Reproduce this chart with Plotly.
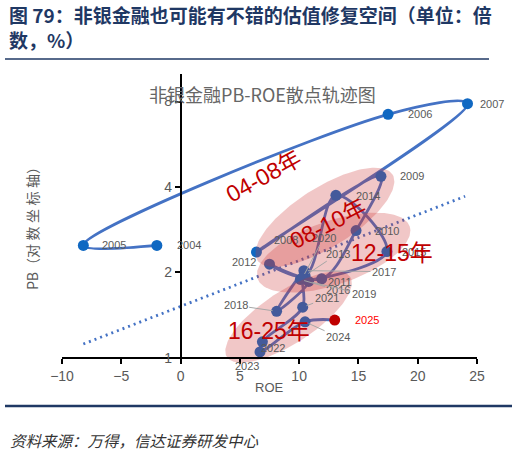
import math
import numpy as np
import plotly.graph_objects as go

# ---------------- data ----------------
years = list(range(2004, 2026))
roe = [-2.0, -8.2, 17.5, 24.2, 6.4, 16.9, 14.8, 11.9, 7.5, 10.5, 13.1,
       17.4, 10.1, 10.4, 8.1, 10.8, 10.3, 10.3, 6.9, 6.7, 10.5, 13.0]
pb = [2.49, 2.49, 7.21, 7.86, 2.36, 4.36, 2.81, 1.90, 2.14, 1.95, 3.74,
      2.37, 1.89, 2.03, 1.46, 1.86, 1.92, 1.51, 1.14, 1.05, 1.34, 1.36]
trend_roe = [-8.2, 24.0]
trend_pb = [1.12, 3.71]
x_ticks = [-10, -5, 0, 5, 10, 15, 20, 25]
y_ticks = [1, 2, 4, 8]
group_labels = ["04-08年", "08-10年", "12-15年", "16-25年"]

# ---------------- layout constants ----------------
W, H = 518, 451
ML, MR, MT, MB = 62, 41, 74, 88
X_RANGE = [-10, 25]
Y_RANGE = [math.log10(0.96), 1.0]
PW, PH = W - ML - MR, H - MT - MB
PX_PER_X = PW / (X_RANGE[1] - X_RANGE[0])
PX_PER_DEC = PH / (Y_RANGE[1] - Y_RANGE[0])

LINE_BLUE = "#4472C4"
MARK_BLUE = "#1068C2"
RED = "#C00000"
GREY = "#595959"
NAVY = "#1F3864"


def paper(xp, yp):
    return (xp - ML) / PW, (H - MB - yp) / PH


def ellipse(cx, cpb, a, b, theta_deg, n=160):
    t = np.linspace(0, 2 * np.pi, n)
    th = math.radians(theta_deg)
    dx = a * np.cos(t) * math.cos(th) - b * np.sin(t) * math.sin(th)
    dy = a * np.cos(t) * math.sin(th) + b * np.sin(t) * math.cos(th)
    return cx + dx / PX_PER_X, cpb * 10 ** (dy / PX_PER_DEC)


fig = go.Figure()

# trend line
fig.add_trace(go.Scatter(x=trend_roe, y=trend_pb, mode="lines",
                         line=dict(color=LINE_BLUE, width=2.8, dash="2px,4px"),
                         hoverinfo="skip", showlegend=False))

# trajectory
mcolors = [MARK_BLUE] * (len(years) - 1) + [RED]
fig.add_trace(go.Scatter(x=roe, y=pb, mode="lines+markers",
                         line=dict(color=LINE_BLUE, width=2.8, shape="spline", smoothing=1.0),
                         marker=dict(size=11, color=mcolors),
                         showlegend=False))

# highlight ellipses (center ROE, center PB, semi-axes px, angle)
for cx, cpb, a, b, ang in [(12.17, 3.13, 80, 29.7, 32.3),
                           (12.91, 2.35, 80.4, 31.9, 19.0),
                           (9.11, 1.394, 73.5, 26.3, 33.0)]:
    ex, ey = ellipse(cx, cpb, a, b, ang)
    fig.add_trace(go.Scatter(x=ex, y=ey, mode="lines", fill="toself",
                             fillcolor="rgba(205,55,55,0.28)",
                             line=dict(width=0), hoverinfo="skip", showlegend=False))

annotations = []
lab_font = dict(family="Liberation Sans, Arial, sans-serif", size=11, color=GREY)

# plain labels: (anchor, xshift, yshift)
plain = {2004: ("left", 18, 0), 2005: ("left", 17, 0), 2006: ("left", 18, 0),
         2007: ("left", 10, 0), 2008: ("left", 16, 12), 2009: ("left", 17, 0),
         2010: ("left", 17, 0), 2011: ("left", 4, -3), 2012: ("right", -12, 2),
         2014: ("left", 18, -1), 2015: ("left", 13, 0), 2022: ("left", -3, -6),
         2023: ("center", -13, -14), 2025: ("left", 18, 0)}
leader = {2013: (33, -22), 2016: (38, 11), 2017: (80, 1), 2018: (-41, -6),
          2019: (55, 13), 2020: (21, -40), 2021: (24, -9), 2024: (33, 15)}

for i, yr in enumerate(years):
    xv, yv = roe[i], math.log10(pb[i])
    f = dict(lab_font)
    if yr == 2025:
        f["color"] = "#FF0000"
    if yr in plain:
        anc, xs, ys = plain[yr]
        annotations.append(dict(x=xv, y=yv, xref="x", yref="y", text=str(yr),
                                showarrow=False, xanchor=anc, yanchor="middle",
                                xshift=xs, yshift=ys, font=f))
    else:
        ax, ay = leader[yr]
        annotations.append(dict(x=xv, y=yv, xref="x", yref="y", text=str(yr),
                                showarrow=True, arrowhead=0, arrowwidth=1,
                                arrowcolor="#A6A6A6", ax=ax, ay=ay, standoff=4,
                                font=f))

# group labels (ROE, PB, angle)
grp_pos = [(7.06, 4.36, -29), (12.4, 2.97, -27), (17.83, 2.34, 0), (7.48, 1.24, 0)]
for txt, (gx, gy, ang) in zip(group_labels, grp_pos):
    annotations.append(dict(x=gx, y=math.log10(gy), xref="x", yref="y", text=txt,
                            showarrow=False, textangle=ang,
                            font=dict(family="Liberation Sans, Noto Sans CJK SC", size=23, color=RED)))

# chart inner title
tx, ty = paper(262.5, 94)
annotations.append(dict(x=tx, y=ty, xref="paper", yref="paper", text="非银金融PB-ROE散点轨迹图",
                        showarrow=False, xanchor="center", yanchor="middle",
                        font=dict(family="Noto Sans CJK SC", size=18, color="#666666")))
# axis titles
tx, ty = paper(269, 387)
annotations.append(dict(x=tx, y=ty, xref="paper", yref="paper", text="ROE",
                        showarrow=False, xanchor="center", yanchor="middle",
                        font=dict(family="Liberation Sans, Noto Sans CJK SC", size=13, color=GREY)))
tx, ty = paper(32, 225)
sp = "\u2005"
annotations.append(dict(x=tx, y=ty, xref="paper", yref="paper",
                        text="PB（对" + sp + "数" + sp + "坐" + sp + "标" + sp + "轴）",
                        showarrow=False, xanchor="center", yanchor="middle", textangle=-90,
                        font=dict(family="Noto Sans CJK SC", size=14, color=GREY)))
# header
tx, ty = paper(7, 15)
annotations.append(dict(x=tx, y=ty, xref="paper", yref="paper",
                        text="<b>图 79：非银金融也可能有不错的估值修复空间（单位：倍</b>",
                        showarrow=False, xanchor="left", yanchor="middle",
                        font=dict(family="Noto Sans CJK SC", size=19, color=NAVY)))
tx, ty = paper(7, 40)
annotations.append(dict(x=tx, y=ty, xref="paper", yref="paper", text="<b>数，%）</b>",
                        showarrow=False, xanchor="left", yanchor="middle",
                        font=dict(family="Noto Sans CJK SC", size=19, color=NAVY)))
# source
tx, ty = paper(8, 440)
annotations.append(dict(x=tx, y=ty, xref="paper", yref="paper",
                        text="<i>资料来源：万得，信达证券研发中心</i>",
                        showarrow=False, xanchor="left", yanchor="middle",
                        font=dict(family="Noto Sans CJK SC", size=15.5, color="#333333")))

shapes = []
x0, y0 = paper(5, 59)
x1, _ = paper(489, 59)
shapes.append(dict(type="line", xref="paper", yref="paper", x0=x0, y0=y0, x1=x1, y1=y0,
                   line=dict(color=NAVY, width=1.5)))
x0, y0 = paper(5, 406)
x1, _ = paper(512, 406)
shapes.append(dict(type="line", xref="paper", yref="paper", x0=x0, y0=y0, x1=x1, y1=y0,
                   line=dict(color=NAVY, width=2.5)))

tick_font = dict(family="Liberation Sans, Arial, sans-serif", size=14, color=GREY)
fig.update_layout(
    width=W, height=H,
    margin=dict(l=ML, r=MR, t=MT, b=MB, pad=0),
    paper_bgcolor="white", plot_bgcolor="white",
    showlegend=False,
    xaxis=dict(range=X_RANGE, tickvals=x_ticks, showgrid=False, zeroline=False,
               showline=True, linecolor="black", linewidth=1.5,
               ticks="outside", ticklen=5, tickcolor="black", tickwidth=1.5,
               tickfont=tick_font, anchor="free",
               position=(0 - Y_RANGE[0]) / (Y_RANGE[1] - Y_RANGE[0])),
    yaxis=dict(type="log", range=Y_RANGE, tickvals=y_ticks, ticktext=[str(v) for v in y_ticks],
               showgrid=False, zeroline=False, showline=True, linecolor="black", linewidth=1.5,
               ticks="outside", ticklen=5, tickcolor="black", tickwidth=1.5,
               tickfont=tick_font, anchor="free",
               position=(0 - X_RANGE[0]) / (X_RANGE[1] - X_RANGE[0])),
    annotations=annotations,
    shapes=shapes,
)

fig.write_html("out.html")
